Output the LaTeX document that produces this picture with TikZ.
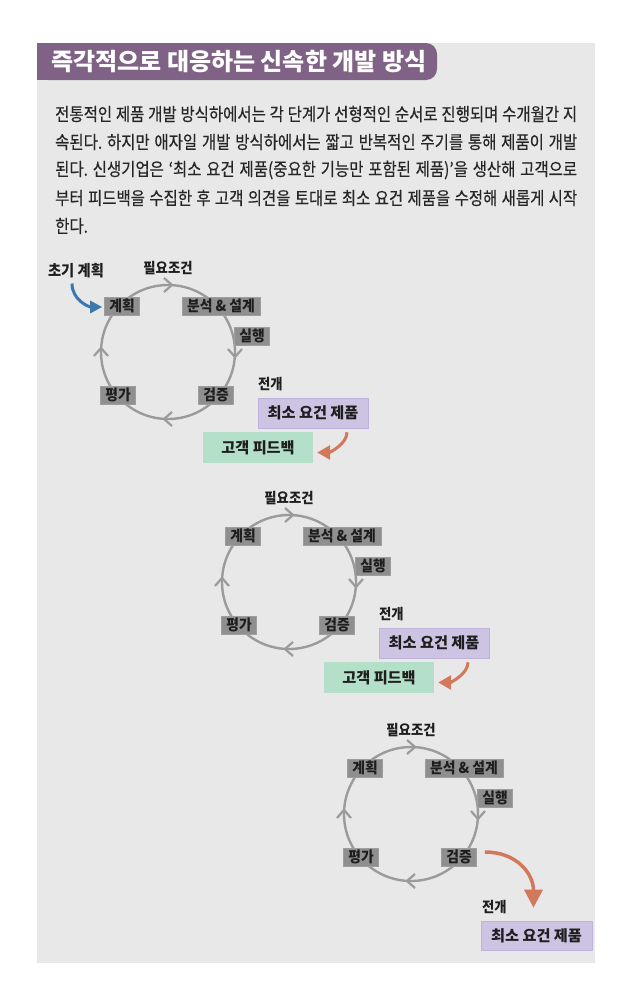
\documentclass[tikz,border=0pt]{standalone}
\usepackage{fontspec}
\setmainfont{Noto Sans CJK KR}
\newfontfamily\bodyfont[FakeStretch=0.86,FakeBold=0.35]{Noto Sans CJK KR}
\newfontfamily\boxfont[FakeStretch=0.92]{Noto Sans CJK KR}
\usetikzlibrary{arrows.meta,calc}
\definecolor{bgc}{HTML}{E8E8E8}
\definecolor{titlec}{HTML}{7F6285}
\definecolor{boxgray}{HTML}{8F8F8F}
\definecolor{boxedge}{HTML}{9E9E9E}
\definecolor{ringc}{HTML}{9B9B9B}
\definecolor{lav}{HTML}{CDC3E2}
\definecolor{lavedge}{HTML}{BFB3DB}
\definecolor{mint}{HTML}{B4E0C9}
\definecolor{orangec}{HTML}{D3795B}
\definecolor{bluec}{HTML}{3A78AE}
\definecolor{ink}{HTML}{1E1E1E}
\definecolor{bodyink}{HTML}{262626}
\tikzset{
  gbox/.style={fill=boxgray, draw=boxedge, line width=0.6pt, inner xsep=2pt, inner ysep=0pt,
    minimum height=18pt, minimum width=35pt, text=ink, font=\boxfont\bfseries\fontsize{15}{15}\selectfont},
  lbl/.style={inner sep=0pt, text=ink, font=\boxfont\bfseries\fontsize{14.5}{14.5}\selectfont},
  mvpbox/.style={fill=lav, draw=lavedge, line width=0.6pt, minimum width=110pt, minimum height=30pt,
    inner sep=0pt, text=ink, font=\bfseries\fontsize{15.2}{15.2}\selectfont},
  fbbox/.style={fill=mint, minimum width=110pt, minimum height=31pt,
    inner sep=0pt, text=ink, font=\bfseries\fontsize{15.2}{15.2}\selectfont},
  ring/.style={draw=ringc, line width=2.4pt},
  chev/.style={draw=ringc, line width=2.2pt},
  oarrow/.style={draw=orangec, line width=3pt, -{Triangle[length=13pt,width=14pt]}},
  oarrowbig/.style={draw=orangec, line width=3.5pt, -{Triangle[length=18pt,width=18pt]}},
  barrow/.style={draw=bluec, line width=3pt, -{Triangle[length=12pt,width=12pt]}},
  bodyline/.style={anchor=west, inner sep=0pt, text=bodyink, font=\bodyfont\fontsize{18}{18}\selectfont\frenchspacing},
}
\newcommand\drawcycle[3]{%
\begin{scope}[shift={(#1,#2)}]
  \draw[ring] (168,352) circle[radius=67];
  \draw[chev] (164,278) -- (172,285) -- (164,292);
  \draw[chev] (228,349) -- (235,357) -- (242,349);
  \draw[chev] (172,412) -- (164,419) -- (172,426);
  \draw[chev] (94,356) -- (101,348) -- (108,356);
  \node[lbl] (req#3) at (168,268) {필요조건};
  \node[gbox] (plan#3) at (122,306) {계획};
  \node[gbox, minimum width=78pt] (design#3) at (221,306) {분석 \& 설계};
  \node[gbox] (impl#3) at (252,336) {실행};
  \node[gbox] (eval#3) at (118,395) {평가};
  \node[gbox] (verify#3) at (216,395) {검증};
\end{scope}}
\newcommand\drawfeedback[3]{%
\begin{scope}[shift={(#1,#2)}]
  \node[mvpbox] (mvp#3) at (313,413) {최소 요건 제품};
  \node[lbl, anchor=west] (deploy#3) at (258,384) {전개};
  \node[fbbox] (fb#3) at (258,447.5) {고객 피드백};
  \draw[oarrow] ($(mvp#3.south)+(34,4)$) .. controls +(0,12) and +(12,0) .. ($(fb#3.east)+(4,5)$);
\end{scope}}
\begin{document}
\begin{tikzpicture}[x=1pt,y=-1pt]
\useasboundingbox (0,0) rectangle (635,996);
\fill[white] (0,0) rectangle (635,996);
\fill[bgc] (37,43) rectangle (595,963);
\fill[titlec, rounded corners=11pt] (37,43) rectangle (437,80);
\fill[titlec] (37,43) rectangle (70,80);
\node[anchor=west, inner sep=0pt, text=white, font=\bfseries\fontsize{24}{24}\selectfont] (title) at (51,61.5) {즉각적으로 대응하는 신속한 개발 방식};
\node[bodyline] (l1) at (55,114) {\makebox[522pt][s]{전통적인 제품 개발 방식하에서는 각 단계가 선형적인 순서로 진행되며 수개월간 지}};
\node[bodyline] (l2) at (55,142) {\makebox[522pt][s]{속된다. 하지만 애자일 개발 방식하에서는 짧고 반복적인 주기를 통해 제품이 개발}};
\node[bodyline] (l3) at (55,170) {\makebox[522pt][s]{된다. 신생기업은 ‘최소 요건 제품(중요한 기능만 포함된 제품)’을 생산해 고객으로}};
\node[bodyline] (l4) at (55,198) {\makebox[522pt][s]{부터 피드백을 수집한 후 고객 의견을 토대로 최소 요건 제품을 수정해 새롭게 시작}};
\node[bodyline] (l5) at (55,226) {한다.};
% cycle 1
\drawcycle{0}{0}{1}
\node[lbl, font=\boxfont\bfseries\fontsize{15.5}{15.5}\selectfont] (init) at (76,271) {초기 계획};
\draw[barrow] ($(init.south)+(-4,5)$) .. controls +(0,16) and +(-14,0) .. ($(plan1.west)+(-2,1)$);
\drawfeedback{0}{0}{1}
% cycle 2
\drawcycle{121}{230}{2}
\drawfeedback{121}{230}{2}
% cycle 3
\drawcycle{243}{462}{3}
\node[mvpbox, minimum width=111pt, minimum height=29pt] (mvp3) at (536.5,935.5) {최소 요건 제품};
\node[lbl, anchor=west] (deploy3) at (482,907) {전개};
\draw[oarrowbig] ($(verify3.east)+(8,-5)$) .. controls +(32,0) and +(0,-34) .. ($(mvp3.north)+(-3,-13)$);
\end{tikzpicture}
\end{document}
